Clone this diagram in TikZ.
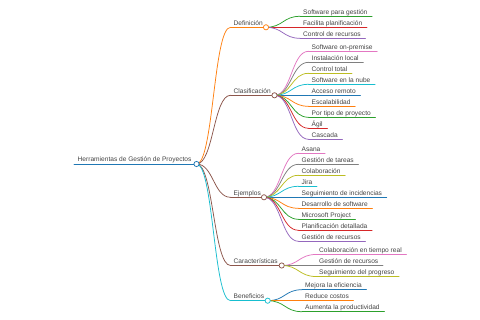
\documentclass[tikz,border=0pt]{standalone}
\usepackage{fontspec}
\setmainfont{Liberation Sans}
\usetikzlibrary{calc}
\definecolor{cblue}{HTML}{1F77B4}
\definecolor{corange}{HTML}{FF7F0E}
\definecolor{cgreen}{HTML}{2CA02C}
\definecolor{cred}{HTML}{D62728}
\definecolor{cpurple}{HTML}{9467BD}
\definecolor{cbrown}{HTML}{8C564B}
\definecolor{cpink}{HTML}{E377C2}
\definecolor{cgray}{HTML}{7F7F7F}
\definecolor{colive}{HTML}{BCBD22}
\definecolor{ccyan}{HTML}{17BECF}
\definecolor{ctext}{HTML}{444444}
\tikzset{
  mmtext/.style={inner sep=0pt, text=ctext, font=\fontsize{6.6pt}{8pt}\selectfont},
  mmline/.style={line width=0.75pt, line cap=round},
  mmdot/.style={circle, fill=white, line width=0.75pt, minimum size=5.2pt, inner sep=0pt},
}
\newcommand{\mmlink}[3]{%
  \draw[mmline,#1] let \p1=(#2), \p2=(#3) in (#2) .. controls ({(\x1+\x2)/2},\y1) and ({(\x1+\x2)/2},\y2) .. (#3);}
% name, parent coordinate, x start, y, x circle, colour, text
\newcommand{\mmbranch}[7]{%
  \coordinate (#1-s) at (#3,#4);
  \coordinate (#1-c) at (#5,#4);
  \node[mmtext, anchor=base west] (#1) at ([xshift=3pt,yshift=2pt]#1-s) {#7};
  \mmlink{#6}{#2}{#1-s}
  \draw[mmline,#6] (#1-s) -- (#1-c);}
% name, parent coordinate, x start, y, colour, text
\newcommand{\mmleaf}[6]{%
  \coordinate (#1-s) at (#3,#4);
  \node[mmtext, anchor=base west] (#1) at ([xshift=3pt,yshift=2pt]#1-s) {#6};
  \mmlink{#5}{#2}{#1-s}
  \draw[mmline,#5] (#1-s) -- ([xshift=4.5pt]#1-s -| #1.east);}
\begin{document}
\begin{tikzpicture}[x=1pt,y=-1pt]
\useasboundingbox[fill=white] (0,0) rectangle (480,320);
% root
\coordinate (r-s) at (74,164);
\coordinate (r-c) at (196.5,164);
\node[mmtext, anchor=base west] (r) at ([xshift=3.5pt,yshift=2pt]r-s) {Herramientas de Gestión de Proyectos};
\draw[mmline,cblue] (r-s) -- (r-c);
% branches
\mmbranch{d}{r-c}{230.5}{27.3}{266}{corange}{Definición}
\mmbranch{c}{r-c}{230.5}{95.3}{274.5}{cbrown}{Clasificación}
\mmbranch{e}{r-c}{230.5}{197.3}{264}{cbrown}{Ejemplos}
\mmbranch{k}{r-c}{230.5}{265.5}{281.7}{cbrown}{Características}
\mmbranch{b}{r-c}{230.5}{300.7}{267.7}{ccyan}{Beneficios}
% Definición
\mmleaf{d1}{d-c}{300}{16.3}{cgreen}{Software para gestión}
\mmleaf{d2}{d-c}{300}{27.3}{cred}{Facilita planificación}
\mmleaf{d3}{d-c}{300}{38.3}{cpurple}{Control de recursos}
% Clasificación
\mmleaf{c1}{c-c}{308.5}{51.3}{cpink}{Software on-premise}
\mmleaf{c2}{c-c}{308.5}{62.3}{cgray}{Instalación local}
\mmleaf{c3}{c-c}{308.5}{73.3}{colive}{Control total}
\mmleaf{c4}{c-c}{308.5}{84.3}{ccyan}{Software en la nube}
\mmleaf{c5}{c-c}{308.5}{95.3}{cblue}{Acceso remoto}
\mmleaf{c6}{c-c}{308.5}{106.3}{corange}{Escalabilidad}
\mmleaf{c7}{c-c}{308.5}{117.3}{cgreen}{Por tipo de proyecto}
\mmleaf{c8}{c-c}{308.5}{128.3}{cred}{Ágil}
\mmleaf{c9}{c-c}{308.5}{139.3}{cpurple}{Cascada}
% Ejemplos
\mmleaf{e1}{e-c}{298.5}{153.3}{cpink}{Asana}
\mmleaf{e2}{e-c}{298.5}{164.3}{cgray}{Gestión de tareas}
\mmleaf{e3}{e-c}{298.5}{175.3}{colive}{Colaboración}
\mmleaf{e4}{e-c}{298.5}{186.3}{ccyan}{Jira}
\mmleaf{e5}{e-c}{298.5}{197.3}{cblue}{Seguimiento de incidencias}
\mmleaf{e6}{e-c}{298.5}{208.3}{corange}{Desarrollo de software}
\mmleaf{e7}{e-c}{298.5}{219.3}{cgreen}{Microsoft Project}
\mmleaf{e8}{e-c}{298.5}{230.3}{cred}{Planificación detallada}
\mmleaf{e9}{e-c}{298.5}{241.3}{cpurple}{Gestión de recursos}
% Características
\mmleaf{k1}{k-c}{316}{254.5}{cpink}{Colaboración en tiempo real}
\mmleaf{k2}{k-c}{316}{265.5}{cgray}{Gestión de recursos}
\mmleaf{k3}{k-c}{316}{276.5}{colive}{Seguimiento del progreso}
% Beneficios
\mmleaf{b1}{b-c}{302}{289.7}{cblue}{Mejora la eficiencia}
\mmleaf{b2}{b-c}{302}{300.7}{corange}{Reduce costos}
\mmleaf{b3}{b-c}{302}{311.7}{cgreen}{Aumenta la productividad}
% circles
\foreach \n/\col in {r/cblue, d/corange, c/cbrown, e/cbrown, k/cbrown, b/ccyan}
  \node[mmdot, draw=\col] (\n-dot) at (\n-c) {};
\end{tikzpicture}
\end{document}
